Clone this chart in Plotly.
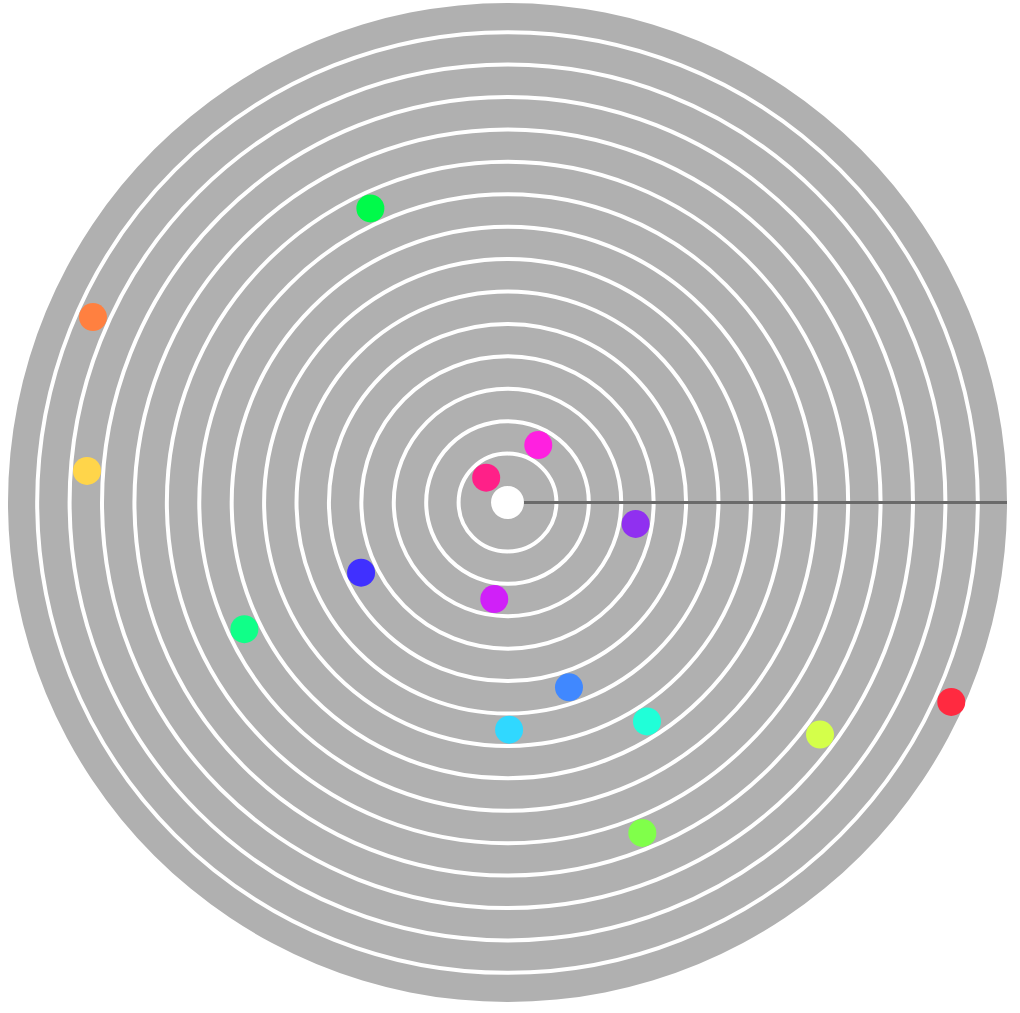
import plotly.graph_objects as go

# Data
r_values = [14.5, 13.5, 12.5, 11.5, 10.5, 9.5, 8.5, 7.5, 6.5, 5.5, 4.5, 3.5, 2.5, 1.5, 0.5]
theta_values = [335.8, 155.9, 175.7, 323.4, 292.2, 115.0, 205.7, 302.5, 270.4, 288.4, 205.6, 350.5, 262.2, 61.8, 130.7]
point_colors = ["#ff2a40", "#ff8040", "#ffd54a", "#d4ff4a", "#80ff4a", "#00fa4a",
                "#10ff88", "#20ffd8", "#30d8ff", "#4088ff", "#4030ff", "#9030f0",
                "#d020f8", "#ff20e0", "#ff2088"]

fig = go.Figure()
fig.add_trace(go.Scatterpolar(
    r=r_values,
    theta=theta_values,
    mode="markers",
    marker=dict(size=28, color=point_colors, line=dict(width=0)),
    hoverinfo="r+theta",
    showlegend=False,
))

fig.update_layout(
    width=1020,
    height=1013,
    margin=dict(l=8, r=13, t=3, b=11),
    paper_bgcolor="white",
    plot_bgcolor="white",
    polar=dict(
        bgcolor="#b0b0b0",
        hole=0.033,
        domain=dict(x=[0, 1], y=[0, 1]),
        radialaxis=dict(
            range=[0, 14.9],
            tick0=0,
            dtick=1,
            showticklabels=False,
            ticks="",
            showline=True,
            linecolor="#6a6a6a",
            linewidth=3,
            gridcolor="white",
            gridwidth=4,
            angle=0,
        ),
        angularaxis=dict(
            showgrid=False,
            showline=False,
            showticklabels=False,
            ticks="",
        ),
    ),
)

fig.write_html("out.html", config={"displayModeBar": False},
               post_script="document.body.style.margin='0';")
